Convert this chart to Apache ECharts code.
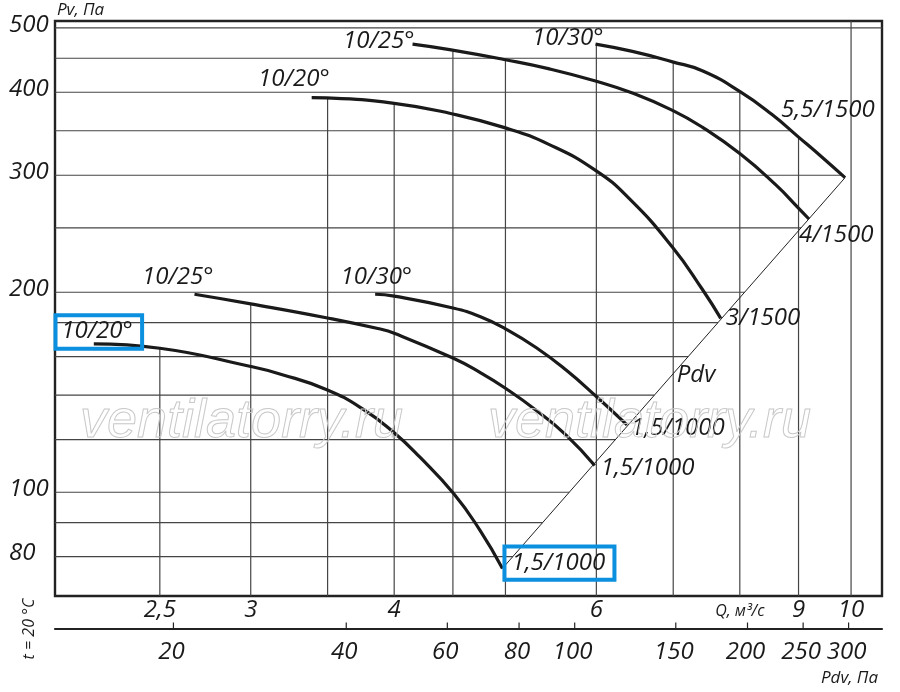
<!DOCTYPE html>
<html>
<head>
<meta charset="utf-8">
<script src="https://cdn.jsdelivr.net/npm/echarts@6.0.0/dist/echarts.min.js"></script>
<style>
html,body{margin:0;padding:0;background:#fff;}
#chart{width:900px;height:692px;}
</style>
</head>
<body>
<div id="chart"></div>
<script>
// ---------- axis ticks and grid values ----------
const qTicks = [2.5, 3, 4, 6, 9, 10];
const qTickLabels = ['2,5', '3', '4', '6', '9', '10'];
const qGridValues = [2.5, 3, 3.5, 4, 4.5, 5, 6, 7, 8, 9, 10];
const pvTicks = [80, 100, 200, 300, 400, 500];
const pvGridValues = [80, 90, 100, 120, 140, 160, 180, 200, 250, 300, 350, 400, 450, 500];
const pdvTicks = [20, 40, 60, 80, 100, 150, 200, 250, 300];

// ---------- fan curves: Q, м³/с  /  Pv, Па ----------
const curveA_Q = [2.19, 2.50, 3.00, 3.18, 3.49, 3.76, 4.00, 4.21, 4.51, 4.75, 4.97];
const curveA_P = [167.2, 164.7, 154.6, 150.7, 142.8, 133.3, 122.9, 113.0, 99.4, 87.7, 76.8];

const curveB_Q = [2.68, 3.00, 3.49, 3.88, 4.00, 4.50, 4.75, 5.00, 5.32, 5.65, 5.98];
const curveB_P = [198.6, 192.1, 183.1, 176.2, 173.5, 159.2, 151.5, 143.4, 132.8, 121.8, 109.7];

const curveC_Q = [3.85, 4.00, 4.50, 4.75, 5.00, 5.32, 5.65, 5.99, 6.38];
const curveC_P = [198.6, 197.3, 189.4, 183.9, 176.2, 165.0, 152.6, 139.7, 126.3];

const curveD_Q = [3.39, 3.49, 4.00, 4.47, 5.00, 5.46, 5.99, 6.41, 6.99, 7.42, 7.70];
const curveD_P = [392.6, 392.2, 384.9, 371.9, 353.5, 333.6, 305.1, 276.6, 233.8, 202.1, 182.7];

const curveE_Q = [4.15, 4.47, 5.00, 5.46, 5.99, 6.45, 6.99, 7.42, 8.01, 8.60, 8.99, 9.19];
const curveE_P = [472.6, 463.7, 447.7, 433.7, 415.8, 398.8, 375.7, 354.4, 322.8, 290.1, 268.2, 257.8];

const curveF_Q = [5.99, 6.45, 6.99, 7.42, 8.01, 8.54, 8.99, 9.43, 9.88];
const curveF_P = [472.6, 460.8, 444.4, 430.8, 400.5, 369.9, 343.0, 319.6, 297.5];

// dynamic pressure line Pdv
const pdvLine_Q = [4.97, 9.88];
const pdvLine_P = [76.8, 297.5];

// curve names: blade angle (start) and motor kW/rpm (end)
const curveStartNames = ['10/20°', '10/25°', '10/30°', '10/20°', '10/25°', '10/30°'];
const curveEndNames = ['1,5/1000', '1,5/1000', '1,5/1000', '3/1500', '4/1500', '5,5/1500'];

// ---------- axis ranges ----------
const Q_MIN = 2.026, Q_MAX = 10.64, PV_MIN = 69.8, PV_MAX = 512;
const PDV_K = 3.03; // Pdv = k * Q^2

// ---------- style / placement (pixels) ----------
const startPlace = [[39, -13], [19, -17], [37, -17], [18, -18], [2, -3], [8, -6]];
const endPlace = [[9, -5], [6, 3], [4, 3], [5, 0], [-10, 16], [-64, -68]];
const boxes = { 's0': [-38.3, -28.7, 86.6, 33.4], 'e0': [2, -22, 110, 33.4] };
const INK = '#1a1a1a';
const GRIDC = '#454545';
const FONT = '"Open Sans", "Liberation Sans", sans-serif';

const curvesQ = [curveA_Q, curveB_Q, curveC_Q, curveD_Q, curveE_Q, curveF_Q];
const curvesP = [curveA_P, curveB_P, curveC_P, curveD_P, curveE_P, curveF_P];

function pairs(q, p) { return q.map((v, i) => [v, p[i]]); }
function logInterp(x0, y0, x1, y1, x) {
  const L = Math.log;
  if (L(x1) === L(x0)) return y0;
  const t = (L(x) - L(x0)) / (L(x1) - L(x0));
  return Math.exp(L(y0) + t * (L(y1) - L(y0)));
}
function pvAt(qs, ps, q) {
  if (q < qs[0] || q > qs[qs.length - 1]) return null;
  for (let i = 0; i < qs.length - 1; i++) {
    if (q >= qs[i] && q <= qs[i + 1]) return logInterp(qs[i], ps[i], qs[i + 1], ps[i + 1], q);
  }
  return null;
}
function qAt(qs, ps, p) {
  let best = null;
  for (let i = 0; i < qs.length - 1; i++) {
    const lo = Math.min(ps[i], ps[i + 1]), hi = Math.max(ps[i], ps[i + 1]);
    if (p >= lo && p <= hi && hi > lo) {
      const q = logInterp(ps[i], qs[i], ps[i + 1], qs[i + 1], p);
      if (best === null || q > best) best = q;
    }
  }
  return best;
}
const allQ = curvesQ.concat([pdvLine_Q]);
const allP = curvesP.concat([pdvLine_P]);

// vertical grid lines rise to the top-most curve; horizontal ones run to the right-most curve
const vGridData = qGridValues.map(q => {
  let top = null;
  allQ.forEach((qs, k) => { const v = pvAt(qs, allP[k], q); if (v !== null && (top === null || v > top)) top = v; });
  return [q, top === null ? PV_MAX : top];
});
const hGridData = pvGridValues.map(p => {
  let right = null;
  allQ.forEach((qs, k) => { const v = qAt(qs, allP[k], p); if (v !== null && (right === null || v > right)) right = v; });
  return [right === null ? Q_MAX : right, p];
});

// curve labels
const labelItems = [];
curvesQ.forEach((qs, k) => {
  const ps = curvesP[k];
  labelItems.push({ value: [qs[0], ps[0]], text: curveStartNames[k], dx: startPlace[k][0], dy: startPlace[k][1], align: 'right', box: boxes['s' + k] });
  const n = qs.length - 1;
  labelItems.push({ value: [qs[n], ps[n]], text: curveEndNames[k], dx: endPlace[k][0], dy: endPlace[k][1], align: 'left', box: boxes['e' + k] });
});
labelItems.push({
  value: [Math.sqrt(pdvLine_Q[0] * pdvLine_Q[1]), Math.sqrt(pdvLine_P[0] * pdvLine_P[1])],
  text: 'Pdv', dx: 3, dy: 2, align: 'left'
});

function txt(x, y, text, size, align, vAlign) {
  return {
    type: 'text', x: x, y: y,
    style: {
      text: text, fill: INK, fontSize: size, fontStyle: 'italic', fontFamily: FONT,
      align: align, verticalAlign: vAlign, textAlign: align, textVerticalAlign: vAlign
    }
  };
}

const curveSeries = curvesQ.map((qs, k) => ({
  type: 'line', name: curveStartNames[k] + ' ' + curveEndNames[k],
  data: pairs(qs, curvesP[k]), smooth: 0.5, symbol: 'none', showSymbol: false,
  lineStyle: { color: INK, width: 3.2, cap: 'butt' }, z: 4, silent: true
}));

const option = {
  animation: false,
  backgroundColor: '#fff',
  grid: { left: 55, top: 21, width: 827, height: 575, show: true, borderColor: '#222', borderWidth: 2.4, backgroundColor: 'transparent' },
  xAxis: [
    { type: 'log', logBase: 10, min: Q_MIN, max: Q_MAX, axisLine: { show: false }, axisTick: { show: false }, axisLabel: { show: false }, splitLine: { show: false } },
    { type: 'log', logBase: 10, min: PDV_K * Q_MIN * Q_MIN, max: PDV_K * Q_MAX * Q_MAX, position: 'bottom', offset: 32.5,
      axisLine: { show: true, lineStyle: { color: '#222', width: 2.2 } }, axisTick: { show: false }, axisLabel: { show: false }, splitLine: { show: false } }
  ],
  yAxis: [
    { type: 'log', logBase: 10, min: PV_MIN, max: PV_MAX, axisLine: { show: false }, axisTick: { show: false }, axisLabel: { show: false }, splitLine: { show: false } }
  ],
  series: [
    { type: 'custom', name: 'vgrid', data: vGridData, z: 1, silent: true, clip: false,
      renderItem: (params, api) => {
        const q = api.value(0), t = api.value(1);
        const a = api.coord([q, PV_MIN]), b = api.coord([q, t]);
        return { type: 'line', shape: { x1: a[0], y1: a[1], x2: b[0], y2: b[1] }, style: { stroke: GRIDC, lineWidth: 1.2 } };
      } },
    { type: 'custom', name: 'hgrid', data: hGridData, z: 1, silent: true, clip: false,
      renderItem: (params, api) => {
        const r = api.value(0), p = api.value(1);
        const a = api.coord([Q_MIN, p]), b = api.coord([r, p]);
        return { type: 'line', shape: { x1: a[0], y1: a[1], x2: b[0], y2: b[1] }, style: { stroke: GRIDC, lineWidth: 1.2 } };
      } },
    { type: 'line', name: 'Pdv', data: pairs(pdvLine_Q, pdvLine_P), symbol: 'none', showSymbol: false,
      lineStyle: { color: '#222', width: 1 }, z: 3, silent: true },
    ...curveSeries,
    // Pv tick labels
    { type: 'custom', name: 'pvLabels', data: pvTicks.map(v => [Q_MIN, v]), z: 6, silent: true, clip: false,
      renderItem: (params, api) => {
        const pt = api.coord([api.value(0), api.value(1)]);
        return txt(pt[0] - 46, pt[1] - 3, String(pvTicks[params.dataIndex]), 24, 'left', 'middle');
      } },
    // Q tick labels
    { type: 'custom', name: 'qLabels', data: qTicks.map(v => [v, PV_MIN]), z: 6, silent: true, clip: false,
      renderItem: (params, api) => {
        const pt = api.coord([api.value(0), api.value(1)]);
        return txt(pt[0], pt[1] + 14, qTickLabels[params.dataIndex], 24, 'center', 'middle');
      } },
    // Q axis name (sits in place of the 8 tick)
    { type: 'custom', name: 'qName', data: [[8, PV_MIN]], z: 6, silent: true, clip: false,
      renderItem: (params, api) => {
        const pt = api.coord([api.value(0), api.value(1)]);
        return txt(pt[0], pt[1] + 15, 'Q, м³/с', 16, 'center', 'middle');
      } },
    // Pdv axis ticks + labels
    { type: 'custom', name: 'pdvTicks', xAxisIndex: 1, yAxisIndex: 0, data: pdvTicks.map(v => [v, PV_MIN]), z: 6, silent: true, clip: false,
      renderItem: (params, api) => {
        const pt = api.coord([api.value(0), api.value(1)]);
        return { type: 'group', children: [
          { type: 'line', shape: { x1: pt[0], y1: pt[1] + 26.5, x2: pt[0], y2: pt[1] + 32.5 }, style: { stroke: '#222', lineWidth: 1.2 } },
          txt(pt[0] - 2, pt[1] + 56, String(pdvTicks[params.dataIndex]), 24, 'center', 'middle')
        ] };
      } },
    // curve labels
    { type: 'custom', name: 'curveLabels', data: labelItems.map(it => it.value), z: 7, silent: true, clip: false,
      renderItem: (params, api) => {
        const it = labelItems[params.dataIndex];
        const pt = api.coord([api.value(0), api.value(1)]);
        const children = [];
        if (it.box) {
          children.push({ type: 'rect', shape: { x: pt[0] + it.box[0], y: pt[1] + it.box[1], width: it.box[2], height: it.box[3] },
            style: { fill: 'none', stroke: '#0b8fdf', lineWidth: 4 } });
        }
        children.push(txt(pt[0] + it.dx, pt[1] + it.dy, it.text, 24, it.align, 'middle'));
        return { type: 'group', children: children };
      } }
  ],
  graphic: [
    { type: 'text', left: 57, top: 2, style: { text: 'Pv, Па', fill: INK, fontSize: 17, fontStyle: 'italic', fontFamily: FONT } },
    { type: 'text', right: 22, top: 670, style: { text: 'Pdv, Па', fill: INK, fontSize: 17, fontStyle: 'italic', fontFamily: FONT } },
    { type: 'text', x: 29, y: 629, rotation: Math.PI / 2,
      style: { text: 't = 20 °C', fill: INK, fontSize: 16, fontStyle: 'italic', fontFamily: FONT, align: 'center', verticalAlign: 'middle', textAlign: 'center', textVerticalAlign: 'middle' } },
    { type: 'text', x: 80, y: 422, z: 100,
      style: { text: 'ventilatorry.ru', fill: 'none', stroke: '#c8c8c8', lineWidth: 1, fontSize: 54, fontStyle: 'italic', fontFamily: '"Liberation Sans", Arial, sans-serif', align: 'left', verticalAlign: 'middle', textAlign: 'left', textVerticalAlign: 'middle' } },
    { type: 'text', x: 488, y: 422, z: 100,
      style: { text: 'ventilatorry.ru', fill: 'none', stroke: '#c8c8c8', lineWidth: 1, fontSize: 54, fontStyle: 'italic', fontFamily: '"Liberation Sans", Arial, sans-serif', align: 'left', verticalAlign: 'middle', textAlign: 'left', textVerticalAlign: 'middle' } }
  ]
};

const chart = echarts.init(document.getElementById('chart'), null, { renderer: 'canvas' });
chart.setOption(option);
</script>
</body>
</html>
